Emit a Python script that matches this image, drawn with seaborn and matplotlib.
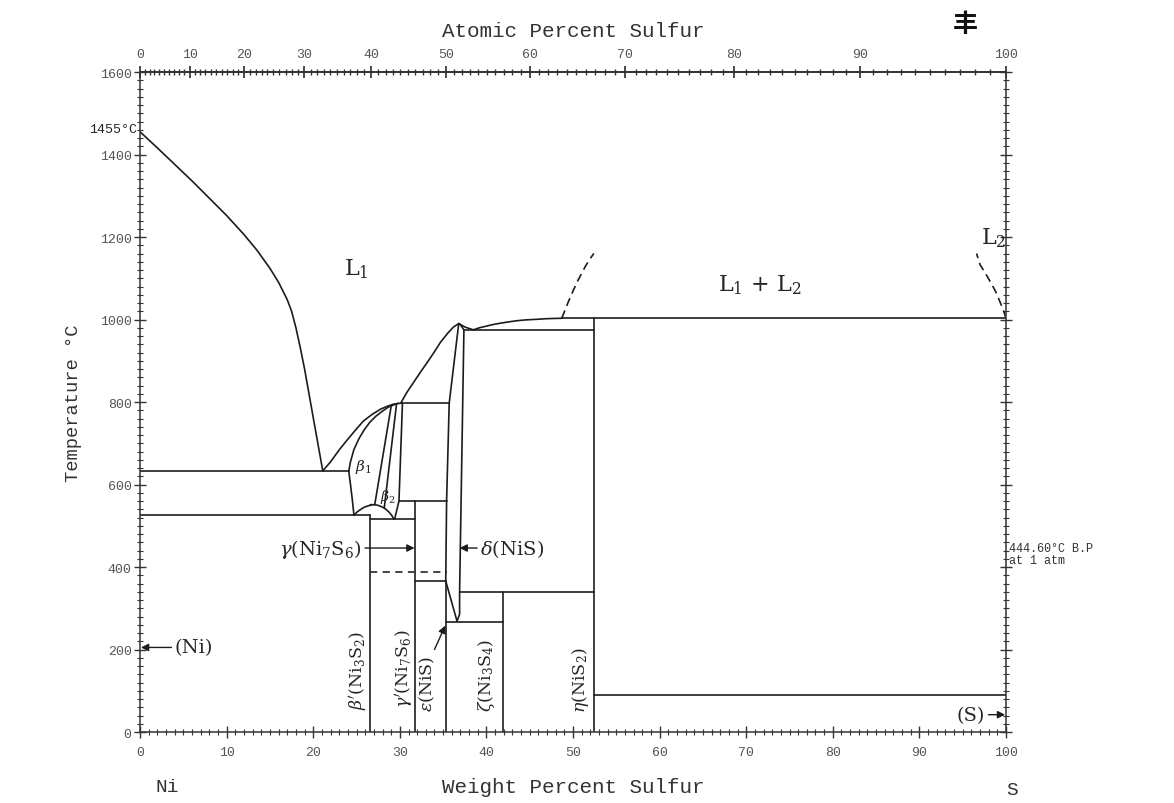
import numpy as np
import pandas as pd
import matplotlib
matplotlib.use("Agg")
import matplotlib.pyplot as plt
import seaborn as sns
from matplotlib.ticker import MultipleLocator, FixedLocator

# ---------------- data (weight % S, temperature degC) ----------------
ni_liquidus_wt = [0, 2, 4, 6, 8, 10, 12, 13.5, 15, 16, 17, 17.5, 18, 18.5,
                  19, 20, 21.1]
ni_liquidus_T = [1455, 1416, 1376, 1336, 1294, 1252, 1206, 1168, 1124, 1090,
                 1048, 1020, 980, 932, 880, 762, 633]

b1_liquidus_wt = [21.1, 22.0, 23.0, 24.0, 25.0, 25.8, 26.8, 27.8, 28.6, 29.3, 30.1]
b1_liquidus_T = [633, 655, 684, 710, 735, 754, 770, 783, 790, 795, 797]

b1_solidus_wt = [24.1, 24.3, 24.7, 25.3, 25.9, 26.5, 27.2, 28.0, 28.7, 29.3, 29.8]
b1_solidus_T = [633, 655, 685, 712, 733, 750, 765, 778, 788, 793, 797]

b1_lower_wt = [24.1, 24.3, 24.5, 24.7]
b1_lower_T = [633, 600, 565, 526]

dome_left_wt = [24.7, 25.1, 25.5, 25.9, 26.3, 26.8]
dome_left_T = [526, 534, 540, 545, 548, 551]
dome_right_wt = [26.6, 27.0, 27.4, 27.8, 28.2, 28.5, 28.8, 29.1, 29.3]
dome_right_T = [551, 551, 550, 547, 543, 538, 532, 524, 516]

b1_right_wt = [29.0, 27.1]
b1_right_T = [790, 551]
b2_left_wt = [29.6, 28.2]
b2_left_T = [792, 543]
b2_right_wt = [30.3, 29.9, 29.4]
b2_right_T = [797, 560, 516]

delta_liquidus_wt = [30.1, 30.8, 31.6, 32.4, 33.2, 34.0, 34.7, 35.5, 36.2, 36.8]
delta_liquidus_T = [797, 823, 848, 873, 897, 922, 945, 966, 982, 990]

delta_left_wt = [36.8, 35.7, 35.4, 35.3, 36.6]
delta_left_T = [990, 797, 560, 366, 269]
delta_right_wt = [36.9, 37.4, 36.9, 36.9, 36.6]
delta_right_T = [990, 975, 339, 285, 269]

s_liquidus_wt = [36.8, 37.6, 38.5, 39.2, 40.0, 40.8, 41.6, 42.5, 43.5, 44.5,
                 45.4, 46.2, 47.0, 47.8, 48.7]
s_liquidus_T = [990, 981, 975, 980, 984, 988, 991, 994, 997, 999,
                1000, 1001, 1002, 1002.5, 1003]

l1_gap_wt = [48.7, 49.1, 49.5, 50.0, 50.5, 51.0, 51.4, 51.9, 52.4]
l1_gap_T = [1003, 1024, 1045, 1069, 1092, 1112, 1128, 1145, 1160]
l2_gap_wt = [100.0, 99.7, 99.3, 98.8, 98.2, 97.6, 97.0, 96.6]
l2_gap_T = [1003, 1022, 1043, 1068, 1091, 1113, 1133, 1160]

# invariant (horizontal) lines
iso_T = [633, 526, 516, 797, 560, 366, 339, 267, 975, 1003, 90]
iso_wt_from = [0, 0, 26.6, 30.1, 29.9, 31.8, 36.9, 35.3, 37.4, 48.7, 52.4]
iso_wt_to = [24.1, 26.6, 31.8, 35.7, 35.4, 35.3, 52.4, 41.9, 52.4, 100, 100]
trans_T = [388]
trans_wt_from = [26.6]
trans_wt_to = [35.4]

# compound (vertical) lines
compound_wt = [26.6, 31.8, 35.3, 41.9, 52.4]
compound_Tmax = [526, 560, 366, 339, 1003]

# axis ticks
wt_major_ticks = list(range(0, 101, 10))
at_major_ticks = list(range(0, 101, 10))
at_minor_ticks = list(range(0, 101, 1))

# ---------------- build long table ----------------
rows = []
def add(name, w, t, style="solid"):
    for a, b in zip(w, t):
        rows.append(dict(seg=name, wt=a, T=b, style=style))

add("ni_liq", ni_liquidus_wt, ni_liquidus_T)
add("b1_liq", b1_liquidus_wt, b1_liquidus_T)
add("b1_sol", b1_solidus_wt, b1_solidus_T)
add("b1_low", b1_lower_wt, b1_lower_T)
add("dome_l", dome_left_wt, dome_left_T)
add("dome_r", dome_right_wt, dome_right_T)
add("b1_r", b1_right_wt, b1_right_T)
add("b2_l", b2_left_wt, b2_left_T)
add("b2_r", b2_right_wt, b2_right_T)
add("d_liq", delta_liquidus_wt, delta_liquidus_T)
add("d_l", delta_left_wt, delta_left_T)
add("d_r", delta_right_wt, delta_right_T)
add("s_liq", s_liquidus_wt, s_liquidus_T)
for i, (t, a, b) in enumerate(zip(iso_T, iso_wt_from, iso_wt_to)):
    add(f"iso{i}", [a, b], [t, t])
for i, (w, t) in enumerate(zip(compound_wt, compound_Tmax)):
    add(f"cmp{i}", [w, w], [0, t])
add("l1gap", l1_gap_wt, l1_gap_T, "dashed")
add("l2gap", l2_gap_wt, l2_gap_T, "dashed")
for i, (t, a, b) in enumerate(zip(trans_T, trans_wt_from, trans_wt_to)):
    add(f"tr{i}", [a, b], [t, t], "dashed2")
df = pd.DataFrame(rows)

# ---------------- styling ----------------
sns.set_theme(style="ticks")
plt.rcParams['font.family'] = ['DejaVu Serif', 'Liberation Serif']
plt.rcParams['mathtext.fontset'] = 'dejavuserif'

fig = plt.figure(figsize=(11.74, 8.04), dpi=100)
ax = fig.add_axes([0.1193, 0.0883, 0.7376, 0.8209])

line_col = "#1c1c1c"
sns.lineplot(data=df[df["style"] == "solid"], x="wt", y="T", units="seg",
             estimator=None, sort=False, color=line_col, linewidth=1.2,
             ax=ax, legend=False)
sns.lineplot(data=df[df["style"] == "dashed"], x="wt", y="T", units="seg",
             estimator=None, sort=False, color=line_col, linewidth=1.2,
             linestyle=(0, (5, 3)), ax=ax, legend=False)
sns.lineplot(data=df[df["style"] == "dashed2"], x="wt", y="T", units="seg",
             estimator=None, sort=False, color="#2f3a2f", linewidth=1.3,
             linestyle=(0, (4, 3)), ax=ax, legend=False)

ax.set_xlim(0, 100)
ax.set_ylim(0, 1600)
ax.xaxis.set_major_locator(FixedLocator(wt_major_ticks))
ax.xaxis.set_minor_locator(MultipleLocator(1))
ax.yaxis.set_major_locator(MultipleLocator(200))
ax.yaxis.set_minor_locator(MultipleLocator(20))
ax.tick_params(which="both", direction="inout", right=True, top=False,
               labelright=False, colors="#333333", labelcolor="#555555",
               labelsize=9.5)
ax.tick_params(which="major", length=8, width=1.0)
ax.tick_params(which="minor", length=4, width=0.8)
ax.tick_params(axis="x", pad=6)
ax.tick_params(axis="y", pad=2)
for lab in ax.get_xticklabels() + ax.get_yticklabels():
    lab.set_family("Liberation Mono")
for s in ax.spines.values():
    s.set_color("#333333")
    s.set_linewidth(1.1)


def wt_to_at(w):
    w = np.clip(np.asarray(w, dtype=float), 0, 100)
    ns = w / 32.06
    nn = (100 - w) / 58.69
    return 100 * ns / (ns + nn)


def at_to_wt(a):
    a = np.clip(np.asarray(a, dtype=float), 0, 100)
    ms = a * 32.06
    mn = (100 - a) * 58.69
    return 100 * ms / (ms + mn)


sec = ax.secondary_xaxis("top", functions=(wt_to_at, at_to_wt))
sec.xaxis.set_major_locator(FixedLocator(at_major_ticks))
sec.xaxis.set_minor_locator(FixedLocator(at_minor_ticks))
sec.tick_params(which="both", direction="inout", colors="#333333",
                labelcolor="#555555", labelsize=9.5, pad=5)
sec.tick_params(which="major", length=8)
sec.tick_params(which="minor", length=4)
for lab in sec.get_xticklabels():
    lab.set_family("Liberation Mono")
sec.set_xlabel("Atomic Percent Sulfur", family="Liberation Mono", fontsize=15,
               color="#333333", labelpad=8)

ax.set_xlabel("Weight Percent Sulfur", family="Liberation Mono", fontsize=15,
              color="#333333", labelpad=14)
ax.set_ylabel("Temperature °C", family="Liberation Mono", fontsize=13.5,
              color="#333333", labelpad=13)

# ---------------- annotations ----------------
ax.text(-0.3, 1462, "1455°C", ha="right", va="center", family="Liberation Mono",
        fontsize=9.5, color="#222222")
ax.text(25.0, 1125, r"L$_1$", ha="center", va="center", fontsize=16)
ax.text(71.6, 1086, r"L$_1$ + L$_2$", ha="center", va="center", fontsize=16)
ax.text(98.6, 1200, r"L$_2$", ha="center", va="center", fontsize=16)
ax.text(25.8, 645, r"$\beta_1$", ha="center", va="center", fontsize=11)
ax.text(28.6, 573, r"$\beta_2$", ha="center", va="center", fontsize=10)

arrow = dict(arrowstyle="-|>", color="#1c1c1c", lw=1.0, mutation_scale=11,
             shrinkA=0, shrinkB=0)
ax.annotate(r"$\gamma$(Ni$_7$S$_6$)", xy=(31.7, 446), xytext=(25.6, 446),
            ha="right", va="center", fontsize=14, arrowprops=arrow)
ax.annotate(r"$\delta$(NiS)", xy=(36.9, 446), xytext=(39.3, 446),
            ha="left", va="center", fontsize=14, arrowprops=arrow)
ax.annotate("(Ni)", xy=(0.1, 205), xytext=(4.0, 205),
            ha="left", va="center", fontsize=14, arrowprops=arrow)
ax.annotate("(S)", xy=(99.9, 42), xytext=(97.6, 42),
            ha="right", va="center", fontsize=14, arrowprops=arrow)
ax.annotate("", xy=(35.25, 258), xytext=(34.0, 200), arrowprops=arrow)

ax.text(25.3, 152, r"$\beta'$(Ni$_3$S$_2$)", rotation=90, ha="center",
        va="center", fontsize=12.5)
ax.text(30.6, 155, r"$\gamma'$(Ni$_7$S$_6$)", rotation=90, ha="center",
        va="center", fontsize=12.5)
ax.text(33.2, 118, r"$\varepsilon$(NiS)", rotation=90, ha="center",
        va="center", fontsize=12.5)
ax.text(40.0, 140, r"$\zeta$(Ni$_3$S$_4$)", rotation=90, ha="center",
        va="center", fontsize=12.5)
ax.text(50.9, 128, r"$\eta$(NiS$_2$)", rotation=90, ha="center",
        va="center", fontsize=12.5)

ax.text(100.35, 447, "444.60°C B.P", ha="left", va="center",
        family="Liberation Mono", fontsize=8.5, color="#333333")
ax.text(100.35, 418, "at 1 atm", ha="left", va="center",
        family="Liberation Mono", fontsize=8.5, color="#333333")

ax.text(0.018, -0.082, "Ni", transform=ax.transAxes, ha="left", va="center",
        family="Liberation Mono", fontsize=14, color="#333333")
ax.text(1.007, -0.087, "S", transform=ax.transAxes, ha="center", va="center",
        family="Liberation Mono", fontsize=14, color="#333333")

fig.text(965 / 1174, 1 - 25 / 804, "丰", ha="center", va="center",
         family=["Noto Sans CJK SC", "DejaVu Sans"], fontsize=18,
         fontweight="bold", color="#111111")

fig.savefig("out.png", dpi=100, facecolor="white")
